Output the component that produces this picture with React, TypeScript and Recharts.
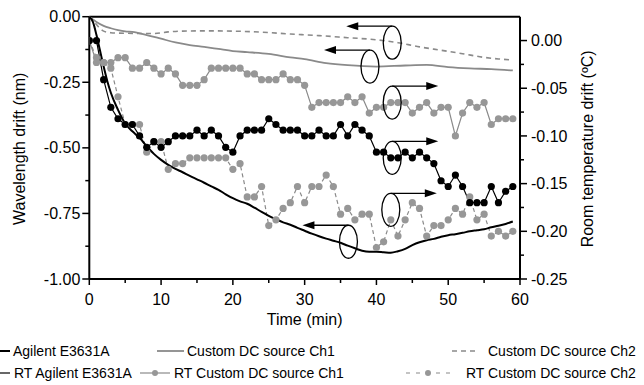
import React from 'react';
import { LineChart, Line, XAxis, YAxis, ReferenceLine, ReferenceDot } from 'recharts';

const FONT = '"Liberation Sans", Arial, Helvetica, sans-serif';
const GRAY_LINE = '#8a8a8a';
const GRAY_DOT = '#979797';

// Wavelength drift (nm), left axis
const agilentTime = [0, 0.5, 1, 1.5, 2, 2.5, 3, 4, 5, 6, 7, 8, 9, 10, 11, 12, 13, 14, 15, 16, 17, 18, 19, 20, 21, 22, 23, 24, 25, 26, 27, 28, 29, 30, 31, 32, 33, 34, 35, 36, 37, 38, 39, 40, 41, 42, 43, 44, 45, 46, 47, 48, 49, 50, 51, 52, 53, 54, 55, 56, 57, 58, 59];
const agilentDrift = [0, -0.02, -0.07, -0.13, -0.19, -0.245, -0.29, -0.355, -0.407, -0.437, -0.462, -0.494, -0.523, -0.546, -0.565, -0.58, -0.593, -0.607, -0.62, -0.633, -0.647, -0.66, -0.677, -0.692, -0.704, -0.713, -0.728, -0.744, -0.759, -0.772, -0.784, -0.793, -0.805, -0.816, -0.827, -0.837, -0.846, -0.854, -0.862, -0.873, -0.883, -0.892, -0.896, -0.896, -0.898, -0.9, -0.894, -0.885, -0.871, -0.86, -0.852, -0.847, -0.839, -0.833, -0.829, -0.824, -0.818, -0.814, -0.81, -0.803, -0.797, -0.79, -0.781];

const ch1Time = [0, 1, 2, 3, 4, 5, 6, 8, 10, 12, 14, 16, 18, 20, 22, 25, 28, 30, 33, 36, 40, 44, 47, 50, 53, 56, 59];
const ch1Drift = [0, -0.02, -0.035, -0.044, -0.051, -0.056, -0.058, -0.07, -0.084, -0.098, -0.108, -0.115, -0.123, -0.131, -0.135, -0.142, -0.155, -0.162, -0.177, -0.185, -0.19, -0.186, -0.184, -0.192, -0.197, -0.2, -0.205];

const ch2Time = [0, 0.5, 1, 1.5, 2, 3, 5, 9, 11, 13, 16, 20, 24, 28, 32, 36, 40, 43, 46, 49, 52, 55, 57, 59];
const ch2Drift = [0, -0.012, -0.03, -0.045, -0.055, -0.061, -0.063, -0.064, -0.058, -0.055, -0.054, -0.055, -0.059, -0.066, -0.072, -0.08, -0.088, -0.099, -0.115, -0.128, -0.141, -0.155, -0.161, -0.165];

// Room temperature drift (ºC), right axis, one reading per minute from t = 0
const rtAgilent = [
  0, 0, -0.041, -0.07, -0.082, -0.088, -0.088, -0.1, -0.112, -0.106,
  -0.112, -0.106, -0.1, -0.1, -0.1, -0.094, -0.1, -0.094, -0.1, -0.112,
  -0.117, -0.1, -0.094, -0.094, -0.094, -0.082, -0.088, -0.094, -0.094, -0.094,
  -0.1, -0.1, -0.094, -0.1, -0.1, -0.088, -0.1, -0.088, -0.094, -0.1,
  -0.117, -0.117, -0.123, -0.123, -0.117, -0.123, -0.117, -0.123, -0.129, -0.147,
  -0.153, -0.141, -0.153, -0.17, -0.17, -0.17, -0.153, -0.17, -0.158, -0.153,
];
const rtCh1 = [
  0, -0.023, -0.023, -0.023, -0.018, -0.018, -0.029, -0.029, -0.023, -0.029,
  -0.035, -0.029, -0.035, -0.047, -0.047, -0.047, -0.041, -0.029, -0.029, -0.029,
  -0.029, -0.029, -0.035, -0.035, -0.041, -0.041, -0.041, -0.035, -0.041, -0.041,
  -0.047, -0.07, -0.065, -0.065, -0.065, -0.065, -0.059, -0.065, -0.059, -0.076,
  -0.07, -0.07, -0.065, -0.065, -0.065, -0.076, -0.07, -0.065, -0.076, -0.07,
  -0.07, -0.1, -0.076, -0.065, -0.07, -0.065, -0.088, -0.082, -0.082, -0.082,
];
const rtCh2 = [
  0, -0.018, -0.023, -0.029, -0.059, -0.088, -0.088, -0.088, -0.117, -0.106,
  -0.106, -0.135, -0.129, -0.129, -0.123, -0.123, -0.123, -0.123, -0.123, -0.123,
  -0.135, -0.129, -0.164, -0.164, -0.153, -0.194, -0.188, -0.176, -0.17, -0.153,
  -0.17, -0.153, -0.153, -0.141, -0.153, -0.182, -0.176, -0.188, -0.182, -0.182,
  -0.217, -0.211, -0.188, -0.205, -0.188, -0.17, -0.176, -0.205, -0.194, -0.194,
  -0.188, -0.176, -0.182, -0.164, -0.188, -0.182, -0.205, -0.2, -0.205, -0.2,
];

const timeTicks = [0, 5, 10, 15, 20, 25, 30, 35, 40, 45, 50, 55, 60];
const driftTicks = [-1, -0.875, -0.75, -0.625, -0.5, -0.375, -0.25, -0.125, 0];
const tempTicks = [-0.25, -0.225, -0.2, -0.175, -0.15, -0.125, -0.1, -0.075, -0.05, -0.025, 0];

// ellipse + arrow callouts pointing each curve at its axis
const callouts = [
  { axis: 'left', t: 42.2, v: -0.099, dir: -1 },
  { axis: 'left', t: 39.1, v: -0.19, dir: -1 },
  { axis: 'right', t: 42.2, v: -0.065, dir: 1 },
  { axis: 'right', t: 42.2, v: -0.123, dir: 1 },
  { axis: 'right', t: 42.0, v: -0.1775, dir: 1 },
  { axis: 'left', t: 36.1, v: -0.858, dir: -1 },
];

const pairs = (xs: number[], ys: number[]) => xs.map((t, i) => ({ t, v: ys[i] }));
const perMinute = (ys: number[]) => ys.map((v, t) => ({ t, v }));

const agilentData = pairs(agilentTime, agilentDrift);
const ch1Data = pairs(ch1Time, ch1Drift);
const ch2Data = pairs(ch2Time, ch2Drift);
const rtAgilentData = perMinute(rtAgilent);
const rtCh1Data = perMinute(rtCh1);
const rtCh2Data = perMinute(rtCh2);

const isMultiple = (v: number, step: number) => Math.abs(v / step - Math.round(v / step)) < 1e-6;

const XTick = ({ x, y, payload }: any) => {
  const major = isMultiple(payload.value, 10);
  return (
    <g>
      <line x1={x} y1={y} x2={x} y2={y + (major ? 6 : 4)} stroke="#000" strokeWidth={1.5} />
      {major && (
        <text x={x} y={y + 25.5} textAnchor="middle" fontSize={16} fontFamily={FONT} fill="#000">
          {payload.value}
        </text>
      )}
    </g>
  );
};

const LeftTick = ({ x, y, payload }: any) => {
  const major = isMultiple(payload.value, 0.25);
  return (
    <g>
      <line x1={x - (major ? 7 : 4)} y1={y} x2={x} y2={y} stroke="#000" strokeWidth={1.5} />
      {major && (
        <text x={x - 9} y={y + 5.6} textAnchor="end" fontSize={16} fontFamily={FONT} fill="#000">
          {payload.value.toFixed(2)}
        </text>
      )}
    </g>
  );
};

const RightTick = ({ x, y, payload }: any) => {
  const major = isMultiple(payload.value, 0.05);
  return (
    <g>
      <line x1={x} y1={y} x2={x + (major ? 7 : 4)} y2={y} stroke="#000" strokeWidth={1.5} />
      {major && (
        <text x={x + 11} y={y + 5.6} textAnchor="start" fontSize={16} fontFamily={FONT} fill="#000">
          {payload.value.toFixed(2)}
        </text>
      )}
    </g>
  );
};

const VerticalTitle = (text: string, dx: number, angle: number) => (props: any) => {
  const { x, y, height } = props.viewBox;
  const cx = x + dx;
  const cy = y + height / 2 + 1;
  return (
    <text
      x={cx}
      y={cy}
      transform={`rotate(${angle}, ${cx}, ${cy})`}
      textAnchor="middle"
      dominantBaseline="central"
      fontSize={16}
      fontFamily={FONT}
      fill="#000"
    >
      {text}
    </text>
  );
};

const TimeTitle = (props: any) => {
  const { x, y, width } = props.viewBox;
  return (
    <text x={x + width / 2} y={y + 45.5} textAnchor="middle" fontSize={16} fontFamily={FONT} fill="#000">
      Time (min)
    </text>
  );
};

const Callout = (dir: number) => (props: any) => {
  const { cx, cy } = props;
  const top = cy - 16.5;
  const tip = cx + dir * 46;
  return (
    <g>
      <ellipse cx={cx} cy={cy} rx={9} ry={16.5} fill="none" stroke="#000" strokeWidth={1.3} />
      <line x1={cx} y1={top} x2={tip - dir * 10} y2={top} stroke="#000" strokeWidth={1.3} />
      <polygon points={`${tip},${top} ${tip - dir * 12},${top - 4} ${tip - dir * 12},${top + 4}`} fill="#000" />
    </g>
  );
};

const legendRows = [
  [
    { label: 'Agilent E3631A', x0: -20, x1: 10, tx: 13, color: '#000', width: 2, dash: undefined, dot: false },
    { label: 'Custom DC source Ch1', x0: 157, x1: 184, tx: 187, color: GRAY_LINE, width: 1.8, dash: undefined, dot: false },
    { label: 'Custom DC source Ch2', x0: 452, x1: 478, tx: 488, color: GRAY_LINE, width: 1.5, dash: '5 4', dot: false },
  ],
  [
    { label: 'RT Agilent E3631A', x0: -20, x1: 10, tx: 14, color: '#000', width: 1.2, dash: undefined, dot: false },
    { label: 'RT Custom DC source Ch1', x0: 140, x1: 170, tx: 174, color: GRAY_LINE, width: 1.2, dash: undefined, dot: true },
    { label: 'RT Custom DC source Ch2', x0: 406, x1: 450, tx: 466, color: GRAY_LINE, width: 1.2, dash: '4 6', dot: true },
  ],
];

const ChartLegend = () => (
  <svg width={644} height={55} style={{ position: 'absolute', left: 0, top: 330 }}>
    {legendRows.map((row, r) =>
      row.map((item) => {
        const y = 21 + r * 22;
        return (
          <g key={item.label}>
            <line x1={item.x0} y1={y} x2={item.x1} y2={y} stroke={item.color} strokeWidth={item.width} strokeDasharray={item.dash} />
            {item.dot && <circle cx={(item.x0 + item.x1) / 2} cy={y} r={3} fill={GRAY_DOT} />}
            <text x={item.tx} y={y + 5} fontSize={14} fontFamily={FONT} fill="#000">
              {item.label}
            </text>
          </g>
        );
      })
    )}
  </svg>
);

export default function App() {
  return (
    <div style={{ position: 'absolute', left: 0, top: 0, width: 644, height: 385, background: '#fff' }}>
      <LineChart width={644} height={330} margin={{ top: 16.7, right: 0, bottom: 21, left: 0 }}>
        <XAxis
          type="number"
          dataKey="t"
          domain={[0, 60]}
          ticks={timeTicks}
          interval={0}
          height={30}
          tickSize={0}
          tickMargin={0}
          tick={<XTick />}
          axisLine={{ stroke: '#000', strokeWidth: 2 }}
          allowDataOverflow
          label={TimeTitle}
        />
        <YAxis
          yAxisId="left"
          type="number"
          domain={[-1, 0]}
          ticks={driftTicks}
          interval={0}
          width={89.3}
          tickSize={0}
          tickMargin={0}
          tick={<LeftTick />}
          axisLine={{ stroke: '#000', strokeWidth: 2 }}
          allowDataOverflow
          label={VerticalTitle('Wavelength drift (nm)', 20, -90)}
        />
        <YAxis
          yAxisId="right"
          orientation="right"
          type="number"
          domain={[-0.25, 0.025]}
          ticks={tempTicks}
          interval={0}
          width={124}
          tickSize={0}
          tickMargin={0}
          tick={<RightTick />}
          axisLine={{ stroke: '#000', strokeWidth: 2 }}
          allowDataOverflow
          label={VerticalTitle('Room temperature drift (ºC)', 68, -90)}
        />
        <ReferenceLine yAxisId="left" y={0} stroke="#000" strokeWidth={2} />

        <Line
          yAxisId="right"
          data={rtCh2Data}
          dataKey="v"
          type="linear"
          stroke={GRAY_LINE}
          strokeWidth={1.2}
          strokeDasharray="4 3"
          dot={{ r: 3.6, fill: GRAY_DOT, stroke: 'none' }}
          isAnimationActive={false}
        />
        <Line
          yAxisId="right"
          data={rtCh1Data}
          dataKey="v"
          type="linear"
          stroke={GRAY_LINE}
          strokeWidth={1.2}
          dot={{ r: 3.6, fill: GRAY_DOT, stroke: 'none' }}
          isAnimationActive={false}
        />
        <Line
          yAxisId="right"
          data={rtAgilentData}
          dataKey="v"
          type="linear"
          stroke="#000"
          strokeWidth={1.2}
          dot={{ r: 3.6, fill: '#000', stroke: 'none' }}
          isAnimationActive={false}
        />
        <Line
          yAxisId="left"
          data={ch2Data}
          dataKey="v"
          type="monotone"
          stroke={GRAY_LINE}
          strokeWidth={1.6}
          strokeDasharray="5 4"
          dot={false}
          isAnimationActive={false}
        />
        <Line
          yAxisId="left"
          data={ch1Data}
          dataKey="v"
          type="monotone"
          stroke={GRAY_LINE}
          strokeWidth={1.8}
          dot={false}
          isAnimationActive={false}
        />
        <Line
          yAxisId="left"
          data={agilentData}
          dataKey="v"
          type="monotone"
          stroke="#000"
          strokeWidth={2}
          dot={false}
          isAnimationActive={false}
        />

        {callouts.map((c, i) => (
          <ReferenceDot
            key={i}
            yAxisId={c.axis}
            x={c.t}
            y={c.v}
            r={1}
            shape={Callout(c.dir)}
          />
        ))}
      </LineChart>
      <ChartLegend />
    </div>
  );
}
